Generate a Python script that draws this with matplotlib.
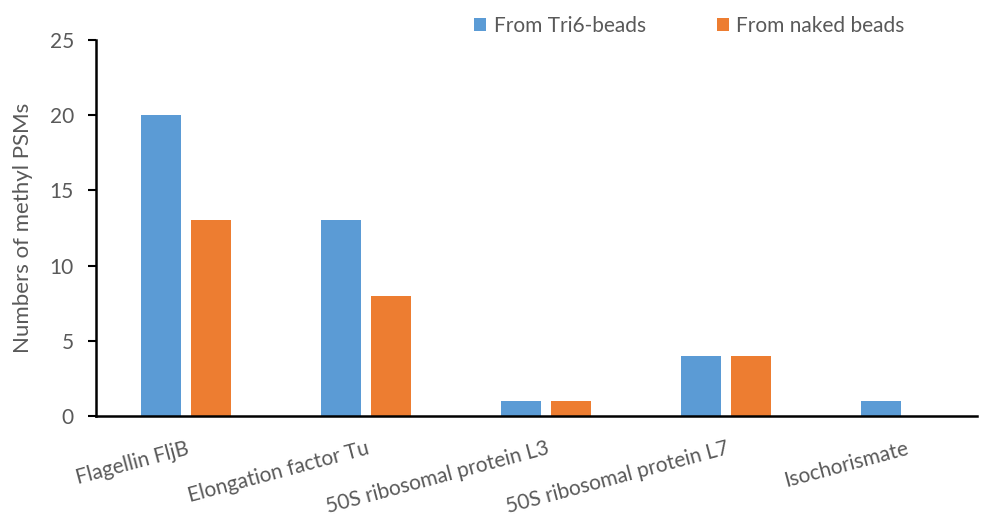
import matplotlib
matplotlib.use("Agg")
import matplotlib.pyplot as plt
import numpy as np

categories = ["Flagellin FljB", "Elongation factor Tu", "50S ribosomal protein L3",
              "50S ribosomal protein L7", "Isochorismate"]
tri6 = [20, 13, 1, 4, 1]
naked = [13, 8, 1, 4, 0]
series_names = ["From Tri6-beads", "From naked beads"]
yticks = [0, 5, 10, 15, 20, 25]

plt.rcParams['font.family'] = ['Lato', 'DejaVu Sans']
gray = '#595959'

fig = plt.figure(figsize=(9.84, 5.18), dpi=100)
ax = fig.add_axes([96/984, 1-416/518, (977-96)/984, (416-40)/518])

x = np.arange(len(categories))
w = 0.222
off = 0.139
ax.bar(x - off, tri6, w, color='#5B9BD5', label=series_names[0])
ax.bar(x + off, naked, w, color='#ED7D31', label=series_names[1])

ax.set_xlim(-0.5, (977-96)/180 - 0.5)
ax.set_ylim(0, 25)
ax.set_yticks(yticks)
ax.set_yticklabels([str(t) for t in yticks], color=gray, fontsize=15)
ax.tick_params(axis='y', direction='out', length=6, width=1.5, pad=10, color='black')
ax.set_xticks(x)
ax.set_xticklabels(categories, rotation=15, ha='right', rotation_mode='anchor',
                   color=gray, fontsize=15)
ax.tick_params(axis='x', length=0, pad=16)
for s in ['top', 'right']:
    ax.spines[s].set_visible(False)
for s in ['left', 'bottom']:
    ax.spines[s].set_linewidth(1.8)
ax.set_ylabel("Numbers of methyl PSMs", color=gray, fontsize=16, labelpad=12)

leg = ax.legend(loc='upper left', bbox_to_anchor=(455/984, 1.005), bbox_transform=fig.transFigure,
                ncol=2, frameon=False, fontsize=15, handlelength=0.6, handleheight=0.6,
                columnspacing=3.4, handletextpad=0.35)
for t in leg.get_texts():
    t.set_color(gray)

fig.savefig("out.png", dpi=100)
